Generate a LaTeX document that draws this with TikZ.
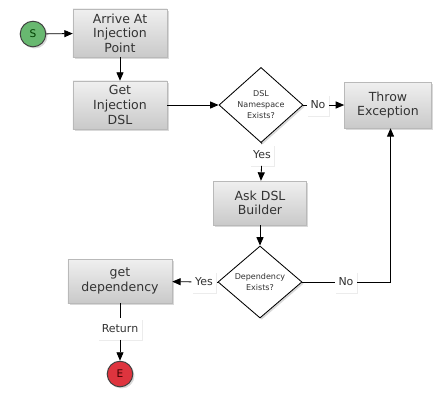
\documentclass[tikz,border=0pt]{standalone}
\usepackage{fontspec}
\setmainfont{DejaVu Sans}
\usetikzlibrary{shapes.geometric,arrows.meta,shadows}

\definecolor{hijau}{RGB}{104,184,112}
\definecolor{merah}{RGB}{222,52,62}

\begin{document}
\begin{tikzpicture}[x=0.025cm, y=-0.025cm,
  >={Triangle[length=6pt,width=5pt]},
  bayang/.style={drop shadow={opacity=0.3, shadow xshift=1.2pt, shadow yshift=-1.2pt}},
  taskbox/.style={rectangle, draw=gray!55, line width=0.3pt, top color=gray!12, bottom color=gray!42,
    minimum width=2.35cm, minimum height=1.1cm, align=center, text=black!80,
    font=\fontsize{8.9}{10.4}\selectfont, bayang},
  choicebox/.style={diamond, draw=black, line width=0.6pt, fill=white, aspect=1, inner sep=0pt,
    minimum width=2.1cm, minimum height=1.8cm, align=center, text=black!80,
    font=\fontsize{5.7}{7.8}\selectfont, bayang},
  tagbox/.style={rectangle, fill=white, inner xsep=2.5pt, inner ysep=0pt, minimum height=15pt,
    text=black!80, font=\fontsize{7.8}{9}\selectfont,
    drop shadow={opacity=0.15, shadow xshift=0.8pt, shadow yshift=-0.8pt}},
  endbox/.style={circle, draw=black!75, line width=0.7pt, minimum size=0.64cm, inner sep=0pt,
    font=\fontsize{7.5}{8}\selectfont, bayang},
  garis/.style={line width=0.6pt}]

  \useasboundingbox (0,0) rectangle (442,404);

  % node
  \node (mulai) [endbox, fill=hijau, text=green!25!black] at (33,34) {S};   % awal
  \node (arrive) [taskbox] at (120,33) {Arrive At\\Injection\\Point};
  \node (getdsl) [taskbox] at (120,105) {Get\\Injection\\DSL};
  \node (cekdsl) [choicebox] at (261,105) {DSL\\Namespace\\Exists?};
  \node (tidak1) [tagbox] at (318,105) {No};
  \node (throw) [taskbox, minimum width=2.18cm, minimum height=1.15cm] at (388,105) {Throw\\Exception};
  \node (ya1) [tagbox] at (262,155) {Yes};
  \node (askdsl) [taskbox, minimum width=2.33cm] at (260,203) {Ask DSL\\Builder};
  \node (cekdep) [choicebox] at (260,282) {Dependency\\Exists?};
  \node (ya2) [tagbox] at (204,282) {Yes};
  \node (tidak2) [tagbox] at (346,282) {No};
  \node (getdep) [taskbox, minimum width=2.6cm] at (120,281) {get\\dependency};
  \node (kembali) [tagbox] at (120,329) {Return};
  \node (selesai) [endbox, fill=merah, text=red!25!black] at (120,374) {E};  % akhir

  % garis koneksi
  \draw [garis, ->] (mulai) -- (arrive);
  \draw [garis, ->] (arrive) -- (getdsl);
  \draw [garis, ->] (getdsl) -- (cekdsl);
  \draw [garis] (cekdsl) -- (tidak1);
  \draw [garis, ->] (tidak1) -- (throw);
  \draw [garis] (cekdsl) -- (ya1);
  \draw [garis, ->] (ya1) -- (askdsl);
  \draw [garis, ->] (askdsl) -- (cekdep);
  \draw [garis] (cekdep) -- (ya2);
  \draw [garis, ->] (ya2) -- (getdep);
  \draw [garis] (cekdep) -- (tidak2);
  \draw [garis, ->] (tidak2) -| ([xshift=3\pgflinewidth]throw.south);
  \draw [garis] (getdep) -- (kembali);
  \draw [garis, ->] (kembali) -- (selesai);
\end{tikzpicture}
\end{document}
